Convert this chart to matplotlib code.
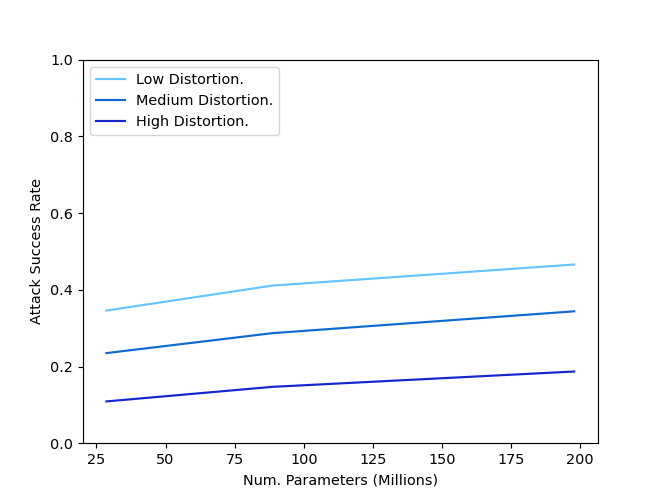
import matplotlib
matplotlib.use("Agg")
import matplotlib.pyplot as plt

params = [28.6, 88.6, 197.8]
low = [0.346, 0.411, 0.466]
medium = [0.235, 0.287, 0.344]
high = [0.109, 0.147, 0.187]
labels = ["Low Distortion.", "Medium Distortion.", "High Distortion."]
colors = ["#66c5ff", "#0d6ad2", "#1427cc"]

fig, ax = plt.subplots(figsize=(6.4, 4.8), dpi=103.75)
for vals, lab, c in zip([low, medium, high], labels, colors):
    ax.plot(params, vals, color=c, label=lab)
ax.set_ylim(0, 1.0)
ax.set_xlabel("Num. Parameters (Millions)")
ax.set_ylabel("Attack Success Rate")
ax.legend(loc="upper left")
fig.savefig("out.png", dpi=103.75)
